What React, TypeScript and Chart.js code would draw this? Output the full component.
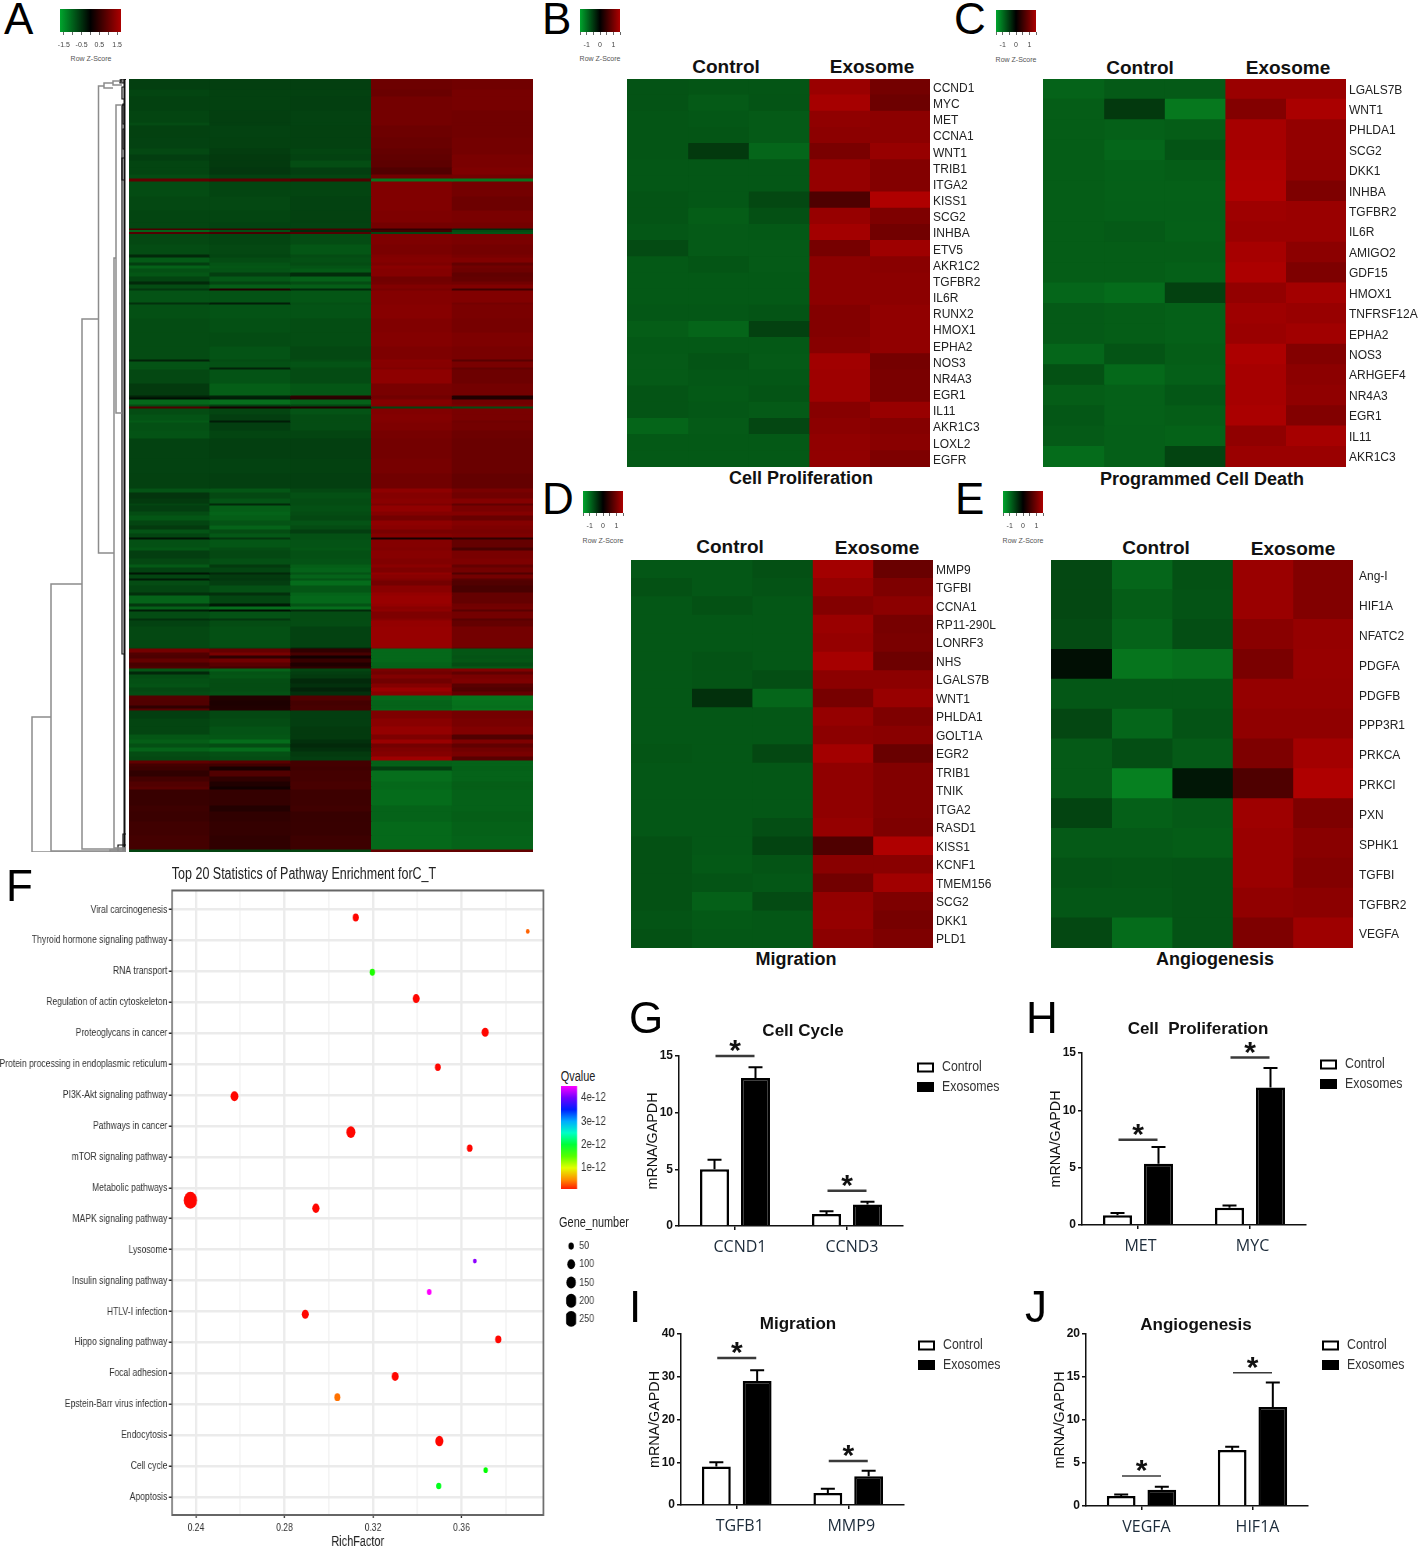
import React, { useEffect, useRef } from "react";
import { Chart, registerables } from "chart.js";

Chart.register(...registerables);

const SANS = '"Liberation Sans", Arial, sans-serif';
const SQUEEZE = 0.78; // panel F was narrowed horizontally in the figure

// ---------- Heat map data: z-scores by sample ----------
const samples = ["C1", "C2", "C3", "E1", "E2"];

// Panel A: [cluster gene count, z of the five samples]
const panelAClusters: number[][] = [
  [10,-.46,-.46,-.46,.68,.7],[7,-.5,-.47,-.47,.66,.74],[14,-.47,-.47,-.46,.72,.74],[12,-.5,-.46,-.48,.72,.7],
  [3,-.54,-.46,-.48,.72,.7],[12,-.47,-.48,-.47,.68,.7],[11,-.48,-.47,-.47,.65,.72],[6,-.52,-.44,-.5,.62,.72],
  [6,-.45,-.42,-.48,.6,.76],[7,-.5,-.42,-.56,.58,.76],[7,-.5,-.4,-.45,.5,.78],[4,-.55,-.47,-.5,.7,.72],
  [3,.6,.55,.5,-.85,-.85],[15,-.55,-.5,-.5,.8,.72],[14,-.52,-.52,-.48,.8,.68],[12,-.5,-.5,-.47,.78,.76],
  [6,-.5,-.48,-.48,.72,.72],[1.5,.45,.4,.45,.3,-.3],[2,-.7,-.55,-.3,.4,-.55],[2,.5,.45,.5,-.5,-.6],
  [10.5,-.52,-.5,-.55,.78,.76],[10,-.55,-.52,-.62,.76,.72],[3,-.3,-.5,-.55,.8,.75],[5,-.65,-.55,-.58,.82,.8],
  [3,-.45,-.6,-.55,.78,.62],[3,-.7,-.62,-.6,.85,.7],[4,-.58,-.6,-.65,.82,.68],[4,-.62,-.45,-.32,.82,.6],
  [5,-.5,-.64,-.7,.7,.62],[3,-.3,-.5,-.55,.72,.7],[4,-.55,-.68,-.68,.8,.8],[2,-.4,.2,-.3,.75,.4],
  [12,-.6,-.6,-.62,.82,.8],[2,-.35,-.22,-.58,.82,.72],[14,-.58,-.6,-.6,.84,.76],[14,-.55,-.58,-.56,.8,.74],
  [14,-.55,-.55,-.56,.82,.78],[13,-.55,-.6,-.52,.78,.75],[2,-.25,-.55,-.55,.85,.55],[6,-.6,-.58,-.6,.84,.75],
  [2,-.6,-.25,-.55,.8,.62],[14,-.52,-.6,-.54,.88,.68],[12,-.42,-.68,-.62,.75,.72],[2,-.25,-.25,.3,.7,.2],
  [2,-.1,-.2,.25,.72,.2],[5,-.75,-.8,-.7,.82,.7],[2,-.55,-.45,-.5,.8,.75],[2,.5,.15,.2,-.5,-.55],
  [6,-.55,-.5,-.6,.8,.75],[6,-.6,-.45,-.55,.82,.75],[2,-.65,-.2,-.55,.8,.7],[8,-.58,-.45,-.55,.78,.72],
  [8,-.6,-.5,-.5,.74,.68],[20,-.48,-.46,-.46,.72,.66],[15,-.48,-.48,-.47,.74,.66],[15,-.47,-.46,-.46,.7,.62],
  [4,-.6,-.62,-.52,.88,.75],[6,-.38,-.52,-.58,.82,.7],[5,-.42,-.6,-.55,.85,.82],[2,-.5,-.3,-.55,.78,.6],
  [6,-.45,-.68,-.58,.9,.75],[4,-.55,-.72,-.55,.82,.82],[5,-.62,-.68,-.52,.72,.65],[5,-.5,-.6,-.6,.88,.82],
  [4,-.42,-.72,-.55,.85,.78],[4,-.6,-.55,-.45,.75,.75],[4,-.5,-.64,-.58,.82,.78],[2,-.15,-.4,-.58,.15,.3],
  [8,-.58,-.62,-.6,.82,.62],[3,-.62,-.55,-.62,.8,.45],[8,-.45,-.52,-.58,.84,.75],[6,-.52,-.58,-.6,.8,.78],
  [3,-.65,-.42,-.68,.86,.62],[5,-.48,-.5,-.72,.78,.72],[2,-.15,-.3,-.6,.9,.5],[4,-.5,-.42,-.72,.85,.72],
  [2,-.2,-.4,-.6,.8,.55],[5,-.55,-.45,-.78,.72,.5],[7,-.5,-.58,-.62,.85,.45],[3,-.35,-.35,-.72,.92,.62],
  [8,-.72,-.5,-.75,.95,.62],[3,-.4,-.18,-.6,.92,.7],[3,-.7,-.8,-.8,.85,.72],[2,-.2,-.1,-.3,.88,.55],
  [7,-.55,-.6,-.55,.78,.72],[2,-.35,-.4,-.55,.84,.55],[6,-.48,-.55,-.55,.92,.62],[21,-.52,-.58,-.48,.94,.72],
  [1,-.5,-.5,-.3,.85,.6],[4,.72,.62,.3,-.75,-.62],[3,.5,.75,.45,-.75,-.62],[3,.48,.3,.12,-.75,-.6],
  [4,.62,.7,.35,-.75,-.62],[4,.45,.55,.2,-.72,-.55],[2,.5,.45,.3,-.72,-.65],[3,-.62,-.72,-.5,.75,.8],
  [3,-.28,-.6,-.45,.7,.6],[4,-.55,-.62,-.42,.8,.75],[5,-.58,-.56,-.3,.7,.78],[4,-.6,-.55,-.35,.82,.55],
  [4,-.52,-.55,-.25,.95,.5],[4,-.55,-.58,-.35,.85,.62],[5,.52,.22,.5,-.75,-.85],[5,.5,.18,.42,-.72,-.82],
  [3,.3,.2,.45,-.72,-.8],[2,.55,.22,.45,-.75,-.85],[8,-.45,-.52,-.45,.78,.72],[8,-.5,-.55,-.45,.85,.75],
  [8,-.5,-.6,-.42,.92,.8],[5,-.62,-.62,-.42,.78,.5],[4,-.68,-.78,-.35,.95,.78],[4,-.58,-.55,-.3,.72,.6],
  [4,-.72,-.78,-.35,.78,.7],[5,-.55,-.58,-.42,.82,.75],[4,-.52,-.55,-.45,.98,.55],[3,.6,.55,.42,-.7,-.72],
  [3,.42,.4,.42,-.7,-.72],[4,.38,.15,.4,-.45,-.7],[6,.3,.5,.42,-.8,-.72],[5,.42,.3,.42,-.8,-.72],
  [5,.5,.2,.45,-.75,-.68],[3,.55,.12,.45,-.75,-.68],[16,.35,.32,.38,-.78,-.7],[6,.38,.22,.4,-.72,-.7],
  [10,.36,.3,.34,-.72,-.68],[14,.4,.32,.35,-.76,-.7],[14,.42,.3,.38,-.76,-.72],[3,-.5,-.5,-.5,.62,.62],
];

// Dendrogram merges: [distance, upper row, lower row, upper child distance, lower child distance]
const panelAMerges: number[][] = [
  [94,638,773,75,0],[75,505,772,44,0],[44,240,770,27.5,0],[27.5,7,474,22,12],[12,179,769,10,0],
  [10,26,334,4.5,4],[4,26,575,1,1],[22,4,9,13,13],[13,2,6,6,4],[6,1,4,2,2],[5,0,3,1,1],
  [4,8,20,1,1],[3,25,45,1,1],[3,50,70,1,1],[4,79,101,1,1],[16,771,773,0,0],[8,766,773,0,0],[3,755,773,0,0],
  [1.5,0,773,0,0],
];

const panelBGenes = ["CCND1","MYC","MET","CCNA1","WNT1","TRIB1","ITGA2","KISS1","SCG2","INHBA","ETV5","AKR1C2","TGFBR2","IL6R","RUNX2","HMOX1","EPHA2","NOS3","NR4A3","EGR1","IL11","AKR1C3","LOXL2","EGFR"];
const panelBValues = [
  [-.55,-.57,-.57,.88,.66],[-.55,-.6,-.56,.95,.62],[-.57,-.58,-.6,.82,.8],[-.57,-.57,-.6,.8,.8],[-.57,-.38,-.68,.7,.86],
  [-.58,-.58,-.58,.85,.75],[-.58,-.58,-.58,.85,.75],[-.56,-.58,-.48,.45,1],[-.56,-.62,-.53,.86,.72],[-.58,-.6,-.59,.93,.65],
  [-.5,-.6,-.6,.68,.9],[-.59,-.57,-.6,.8,.78],[-.59,-.59,-.59,.8,.8],[-.59,-.59,-.59,.8,.8],[-.58,-.58,-.56,.75,.83],
  [-.62,-.67,-.43,.75,.83],[-.59,-.59,-.59,.77,.83],[-.6,-.56,-.6,.92,.67],[-.6,-.58,-.58,.9,.7],[-.56,-.59,-.56,.9,.7],
  [-.56,-.58,-.6,.77,.87],[-.67,-.6,-.47,.8,.76],[-.59,-.59,-.59,.83,.78],[-.59,-.59,-.59,.83,.72],
];

const panelCGenes = ["LGALS7B","WNT1","PHLDA1","SCG2","DKK1","INHBA","TGFBR2","IL6R","AMIGO2","GDF15","HMOX1","TNFRSF12A","EPHA2","NOS3","ARHGEF4","NR4A3","EGR1","IL11","AKR1C3"];
const panelCValues = [
  [-.66,-.6,-.6,.88,.88],[-.62,-.38,-.8,.75,.97],[-.62,-.64,-.62,.95,.84],[-.62,-.68,-.56,.95,.84],[-.62,-.64,-.62,.98,.82],
  [-.62,-.64,-.64,1,.72],[-.62,-.63,-.63,.9,.88],[-.62,-.6,-.64,.88,.88],[-.62,-.62,-.62,.95,.8],[-.62,-.62,-.64,.98,.72],
  [-.68,-.72,-.43,.84,.93],[-.6,-.62,-.64,.9,.87],[-.6,-.62,-.64,.88,.92],[-.68,-.56,-.62,.98,.75],[-.54,-.7,-.63,.95,.8],
  [-.62,-.64,-.58,.95,.82],[-.58,-.64,-.62,.97,.74],[-.6,-.63,-.65,.82,.95],[-.72,-.63,-.45,.88,.88],
];

const panelDGenes = ["MMP9","TGFBI","CCNA1","RP11-290L","LONRF3","NHS","LGALS7B","WNT1","PHLDA1","GOLT1A","EGR2","TRIB1","TNIK","ITGA2","RASD1","KISS1","KCNF1","TMEM156","SCG2","DKK1","PLD1"];
const panelDValues = [
  [-.58,-.58,-.53,.93,.6],[-.54,-.58,-.55,.85,.72],[-.58,-.54,-.58,.75,.8],[-.58,-.58,-.58,.88,.68],[-.58,-.58,-.58,.85,.7],
  [-.58,-.55,-.58,.95,.62],[-.58,-.56,-.52,.8,.8],[-.58,-.32,-.68,.68,.87],[-.58,-.58,-.58,.85,.72],[-.58,-.58,-.58,.8,.78],
  [-.57,-.58,-.48,.93,.6],[-.58,-.58,-.58,.82,.74],[-.58,-.58,-.58,.82,.74],[-.58,-.58,-.58,.82,.74],[-.58,-.58,-.52,.85,.72],
  [-.54,-.58,-.45,.45,1],[-.54,-.59,-.56,.78,.78],[-.54,-.56,-.58,.65,.92],[-.54,-.64,-.5,.84,.72],[-.56,-.59,-.58,.85,.68],
  [-.54,-.58,-.58,.8,.72],
];

const panelEGenes = ["Ang-I","HIF1A","NFATC2","PDGFA","PDGFB","PPP3R1","PRKCA","PRKCI","PXN","SPHK1","TGFBI","TGFBR2","VEGFA"];
const panelEValues = [
  [-.48,-.68,-.54,.88,.74],[-.48,-.62,-.55,.88,.74],[-.5,-.66,-.52,.78,.85],[-.1,-.78,-.74,.7,.86],[-.58,-.58,-.58,.85,.85],
  [-.47,-.68,-.55,.82,.82],[-.6,-.52,-.6,.72,.93],[-.6,-.85,-.15,.45,1],[-.45,-.64,-.6,.9,.72],[-.6,-.6,-.62,.88,.78],
  [-.55,-.57,-.55,.88,.75],[-.58,-.58,-.55,.83,.8],[-.48,-.72,-.55,.72,.9],
];

// ---------- Panel F data ----------
const pathwayNames = ["Viral carcinogenesis","Thyroid hormone signaling pathway","RNA transport","Regulation of actin cytoskeleton","Proteoglycans in cancer","Protein processing in endoplasmic reticulum","PI3K-Akt signaling pathway","Pathways in cancer","mTOR signaling pathway","Metabolic pathways","MAPK signaling pathway","Lysosome","Insulin signaling pathway","HTLV-I infection","Hippo signaling pathway","Focal adhesion","Epstein-Barr virus infection","Endocytosis","Cell cycle","Apoptosis"];
const pathwayRichFactor = [.3122,.3899,.3197,.3395,.3707,.3493,.2574,.31,.3637,.2375,.2942,.366,.3454,.2894,.3766,.33,.3039,.35,.3709,.3497];
const pathwayRowPosition = [.26,.71,2.03,2.88,3.97,5.1,6.04,7.2,7.72,9.4,9.66,11.37,12.37,13.09,13.9,15.1,15.77,17.19,18.13,18.64];
const pathwayGenes = [61,23,48,80,83,55,100,133,52,288,87,23,37,83,61,80,61,109,32,42];
const pathwayQE12 = [.02,.35,1.7,.02,.02,.02,.02,.02,.02,.02,.02,4.1,4.5,.02,.02,.02,.4,.02,1.8,1.9];
const legendGeneNumbers = [50,100,150,200,250];
const qTicks = [1,2,3,4];

// ---------- Panels G-J data ----------
const gCats = ["CCND1","CCND3"]; const gControl = [5,1.05]; const gControlErr = [5.85,1.3]; const gExo = [13.05,1.9]; const gExoErr = [14,2.15]; const gSig = [15,3.1];
const hCats = ["MET","MYC"]; const hControl = [.85,1.5]; const hControlErr = [1.05,1.7]; const hExo = [5.35,12]; const hExoErr = [6.8,13.7]; const hSig = [7.43,14.6];
const iCats = ["TGFB1","MMP9"]; const iControl = [9,2.8]; const iControlErr = [10,3.8]; const iExo = [29,6.7]; const iExoErr = [31.5,8]; const iSig = [34.4,10.3];
const jCats = ["VEGFA","HIF1A"]; const jControl = [1.15,6.5]; const jControlErr = [1.35,6.9]; const jExo = [1.9,11.5]; const jExoErr = [2.25,14.35]; const jSig = [3.5,15.5];

// ---------- Colour helpers ----------
const zColor = (z: number) => {
  if (z < 0) { const g = 150 * -z; return `rgb(${Math.round(g * 0.05)},${Math.round(g)},${Math.round(g * 0.25)})`; }
  return `rgb(${Math.round(175 * z)},0,0)`;
};
const qColor = (q: number) => `hsl(${(q / 4.5) * 300},100%,50%)`;
const geneRadius = (n: number) => 0.5 * Math.sqrt(n);

const base = { responsive: false, animation: false, events: [] as string[] };
const noPlugins = { legend: { display: false }, tooltip: { enabled: false }, title: { display: false } };
const noMargins = (s: any) => { s.paddingTop = 0; s.paddingBottom = 0; s.paddingLeft = 0; s.paddingRight = 0; };

// ---------- Chart builders ----------
function heatmapConfig(genes: string[], values: number[][], gap: number, axisWidth: number, labelShift: number) {
  return {
    type: "bar",
    data: {
      labels: genes,
      datasets: samples.map((s, c) => ({
        label: s,
        data: genes.map(() => 1),
        backgroundColor: values.map((r) => zColor(r[c])),
        barPercentage: 1,
        categoryPercentage: 1,
        inflateAmount: 0.6,
      })),
    },
    options: {
      ...base,
      indexAxis: "y",
      plugins: noPlugins,
      scales: {
        x: { stacked: true, min: 0, max: samples.length, display: false },
        y: {
          stacked: true,
          position: "right",
          grid: { display: false, drawTicks: false },
          border: { display: false },
          afterFit: (s: any) => { s.width = axisWidth; noMargins(s); },
          ticks: { autoSkip: false, padding: gap, labelOffset: labelShift, color: "#222", font: { family: SANS, size: 12 } },
        },
      },
    },
  };
}

function clusterConfig() {
  const total = panelAClusters.reduce((a, r) => a + r[0], 0);
  return {
    type: "bar",
    data: {
      labels: samples,
      datasets: panelAClusters.map((r, i) => ({
        label: `cluster ${i + 1}`,
        data: samples.map(() => r[0]),
        backgroundColor: r.slice(1).map((z) => zColor(z * 0.92)),
        barPercentage: 1,
        categoryPercentage: 1,
        inflateAmount: 0.4,
      })),
    },
    options: {
      ...base,
      plugins: noPlugins,
      scales: {
        x: { stacked: true, display: false },
        y: { stacked: true, reverse: true, min: 0, max: total, display: false },
      },
    },
  };
}

function dendrogramConfig() {
  return {
    type: "scatter",
    data: {
      datasets: panelAMerges.map(([h, a, b, ca, cb]) => ({
        data: [{ x: ca, y: a }, { x: h, y: a }, { x: h, y: b }, { x: cb, y: b }],
        showLine: true,
        pointRadius: 0,
        clip: false,
        borderColor: h > 8 ? "#8c8c8c" : "#111",
        borderWidth: h < 2 ? 2 : h > 8 ? 1.5 : 1.2,
      })),
    },
    options: {
      ...base,
      plugins: noPlugins,
      scales: {
        x: { type: "linear", reverse: true, min: 0, max: 100, display: false },
        y: { type: "linear", reverse: true, min: 0, max: 773, display: false },
      },
    },
  };
}

function keyConfig(range: number, labels: number[]) {
  return {
    type: "bar",
    data: {
      labels: ["key"],
      datasets: [{
        data: [[-range, range]],
        barPercentage: 1,
        categoryPercentage: 1,
        backgroundColor: (ctx: any) => {
          const a = ctx.chart.chartArea;
          if (!a) return "#000";
          const g = ctx.chart.ctx.createLinearGradient(a.left, 0, a.right, 0);
          g.addColorStop(0, "rgb(0,165,45)");
          g.addColorStop(0.5, "rgb(0,0,0)");
          g.addColorStop(1, "rgb(172,0,0)");
          return g;
        },
      }],
    },
    options: {
      ...base,
      indexAxis: "y",
      plugins: noPlugins,
      layout: { padding: { left: 5, right: 5 } },
      scales: {
        y: { display: false },
        x: {
          min: -range,
          max: range,
          afterFit: (s: any) => { s.height = 20; noMargins(s); },
          border: { display: false },
          grid: { drawOnChartArea: false, tickLength: 3, color: "#666" },
          ticks: {
            stepSize: 0.5,
            includeBounds: false,
            autoSkip: false,
            maxRotation: 0,
            padding: 6,
            color: "#444",
            font: { family: SANS, size: 7 },
            callback: (v: number) => (labels.includes(Math.round(v * 10) / 10) ? String(v) : ""),
          },
        },
      },
    },
  };
}

const framePlugin = {
  id: "frame",
  afterDraw(chart: any) {
    const { ctx, chartArea: a } = chart;
    ctx.save();
    ctx.strokeStyle = "#666";
    ctx.lineWidth = 2;
    ctx.strokeRect(a.left, a.top, a.right - a.left, a.bottom - a.top);
    ctx.restore();
  },
};

function bubbleConfig() {
  const tickFont = { family: SANS, size: 11 };
  return {
    type: "bubble",
    data: {
      datasets: [{
        data: pathwayNames.map((_, i) => ({ x: pathwayRichFactor[i], y: pathwayRowPosition[i], r: geneRadius(pathwayGenes[i]) })),
        backgroundColor: pathwayQE12.map(qColor),
        borderWidth: 0,
      }],
    },
    options: {
      ...base,
      layout: { padding: { top: 5, right: 6 / SQUEEZE } },
      plugins: noPlugins,
      scales: {
        x: {
          min: 0.2292,
          max: 0.397,
          afterFit: (s: any) => { s.height = 36; noMargins(s); },
          border: { display: false },
          grid: {
            color: "#ebebeb",
            lineWidth: (c: any) => (Math.round(c.tick.value * 100) % 4 === 0 ? 2.8 : 1.2),
            tickColor: (c: any) => (Math.round(c.tick.value * 100) % 4 === 0 ? "#333" : "rgba(0,0,0,0)"),
            tickWidth: 1.5,
            tickLength: 3,
          },
          ticks: {
            stepSize: 0.02,
            includeBounds: false,
            autoSkip: false,
            maxRotation: 0,
            padding: 3,
            color: "#333",
            font: tickFont,
            callback: (v: number) => (Math.round(v * 100) % 4 === 0 ? v.toFixed(2) : ""),
          },
          title: { display: true, text: "RichFactor", color: "#222", padding: { top: 1, bottom: 0 }, font: { family: SANS, size: 14 } },
        },
        y: {
          reverse: true,
          min: -0.614,
          max: 19.58,
          afterFit: (s: any) => { s.width = 172 / SQUEEZE; noMargins(s); },
          border: { display: false },
          grid: { color: "#ebebeb", lineWidth: 2.5, tickColor: "#222", tickWidth: 1.5, tickLength: 4 },
          ticks: {
            stepSize: 1,
            includeBounds: false,
            autoSkip: false,
            padding: 2,
            color: "#333",
            font: tickFont,
            callback: (v: number) => pathwayNames[Math.round(v)] ?? "",
          },
        },
      },
    },
    plugins: [framePlugin],
  };
}

const SIDE_AXIS = 40 / SQUEEZE;

function qBarConfig() {
  return {
    type: "bar",
    data: {
      labels: ["Qvalue"],
      datasets: [{
        data: [[0.1, 4.5]],
        barPercentage: 1,
        categoryPercentage: 1,
        backgroundColor: (ctx: any) => {
          const a = ctx.chart.chartArea;
          if (!a) return "#000";
          const g = ctx.chart.ctx.createLinearGradient(0, a.bottom, 0, a.top);
          [0.1, 0.5, 1, 1.5, 2, 2.5, 3, 3.5, 4, 4.5].forEach((q) => g.addColorStop((q - 0.1) / 4.4, qColor(q)));
          return g;
        },
      }],
    },
    options: {
      ...base,
      plugins: noPlugins,
      scales: {
        x: { display: false },
        y: {
          position: "right",
          min: 0.1,
          max: 4.5,
          afterFit: (s: any) => { s.width = SIDE_AXIS; noMargins(s); },
          border: { display: false },
          grid: { display: false, drawTicks: false },
          ticks: {
            stepSize: 1,
            includeBounds: false,
            padding: 5,
            color: "#333",
            font: { family: SANS, size: 12.5 },
            callback: (v: number) => (qTicks.includes(v) ? `${v}e-12` : ""),
          },
        },
      },
    },
  };
}

function geneKeyConfig() {
  return {
    type: "bubble",
    data: {
      datasets: [{
        data: legendGeneNumbers.map((n) => ({ x: 0.5, y: n, r: geneRadius(n) })),
        backgroundColor: "#000",
        borderWidth: 0,
      }],
    },
    options: {
      ...base,
      plugins: noPlugins,
      scales: {
        x: { display: false, min: 0, max: 1 },
        y: {
          position: "right",
          reverse: true,
          min: 0,
          max: 300,
          afterFit: (s: any) => { s.width = SIDE_AXIS; noMargins(s); },
          border: { display: false },
          grid: { display: false, drawTicks: false },
          ticks: {
            stepSize: 50,
            padding: 4,
            color: "#333",
            font: { family: SANS, size: 11.5 },
            callback: (v: number) => (legendGeneNumbers.includes(v) ? String(v) : ""),
          },
        },
      },
    },
  };
}

const TOP_PAD = 40;
const RIGHT_PAD = 115;
const AXIS_W = 39;
const AXIS_H = 33;

function barConfig(cats: string[], control: number[], controlErr: number[], exo: number[], exoErr: number[], sig: number[], yMax: number, yStep: number, sigWidth: number, labelShift: number) {
  const extras = {
    id: "extras",
    afterDatasetsDraw(chart: any) {
      const { ctx, chartArea: a, scales } = chart;
      ctx.save();
      ctx.strokeStyle = "#000";
      ctx.lineWidth = 2;
      chart.data.datasets.forEach((ds: any, di: number) => {
        chart.getDatasetMeta(di).data.forEach((bar: any, i: number) => {
          const top = scales.y.getPixelForValue(ds.errorTop[i]);
          ctx.beginPath();
          ctx.moveTo(bar.x, bar.y);
          ctx.lineTo(bar.x, top);
          ctx.moveTo(bar.x - 7, top);
          ctx.lineTo(bar.x + 7, top);
          ctx.stroke();
        });
      });
      sig.forEach((level, i) => {
        const x = scales.x.getPixelForValue(i);
        const y = scales.y.getPixelForValue(level);
        ctx.strokeStyle = "#3a3a3a";
        ctx.lineWidth = sigWidth;
        ctx.beginPath();
        ctx.moveTo(x - 19.5, y);
        ctx.lineTo(x + 19.5, y);
        ctx.stroke();
        ctx.fillStyle = "#111";
        ctx.font = `bold 30px ${SANS}`;
        ctx.textAlign = "center";
        ctx.textBaseline = "middle";
        ctx.fillText("*", x, y - 4);
      });
      chart.data.datasets.forEach((ds: any, di: number) => {
        const sx = a.right + 14;
        const sy = a.top + 6.5 + di * 19.5;
        ctx.fillStyle = ds.backgroundColor;
        ctx.fillRect(sx, sy, 17, 10);
        ctx.strokeStyle = "#000";
        ctx.lineWidth = 2;
        ctx.strokeRect(sx + 1, sy + 1, 15, 8);
        ctx.save();
        ctx.translate(sx + 25, sy + 5);
        ctx.scale(0.88, 1);
        ctx.fillStyle = "#333";
        ctx.font = `14px ${SANS}`;
        ctx.textAlign = "left";
        ctx.textBaseline = "middle";
        ctx.fillText(ds.label, 0, 0);
        ctx.restore();
      });
      ctx.restore();
    },
  };
  const common = { barPercentage: 0.707, categoryPercentage: 0.732, borderColor: "#000", borderWidth: 2.5 };
  return {
    type: "bar",
    data: {
      labels: cats,
      datasets: [
        { label: "Control", data: control, errorTop: controlErr, backgroundColor: "#fff", ...common },
        { label: "Exosomes", data: exo, errorTop: exoErr, backgroundColor: "#000", ...common },
      ],
    },
    options: {
      ...base,
      layout: { padding: { top: TOP_PAD, right: RIGHT_PAD } },
      plugins: noPlugins,
      scales: {
        x: {
          afterFit: (s: any) => { s.height = AXIS_H; },
          border: { color: "#111", width: 1.5 },
          grid: { drawOnChartArea: false, offset: false, color: "#111", lineWidth: 1.5, tickLength: 4 },
          ticks: { maxRotation: 0, autoSkip: false, padding: 8, labelOffset: labelShift, color: "#1c2b3a", font: { family: '"Open Sans", sans-serif', size: 16 } },
        },
        y: {
          min: 0,
          max: yMax,
          afterFit: (s: any) => { s.width = AXIS_W; },
          border: { color: "#111", width: 1.5 },
          grid: { drawOnChartArea: false, color: "#111", lineWidth: 1.5, tickLength: 4 },
          ticks: { stepSize: yStep, padding: 2, color: "#111", font: { family: SANS, size: 12, weight: "bold" } },
          title: { display: true, text: "mRNA/GAPDH", color: "#111", padding: { top: 4, bottom: 0 }, font: { family: SANS, size: 14.3 } },
        },
      },
    },
    plugins: [extras],
  };
}

// ---------- Layout tables ----------
const keyBoxes = [
  { left: 60, top: 9, w: 61, h: 23, range: 1.72, labels: [-1.5, -0.5, 0.5, 1.5] },
  { left: 580, top: 9, w: 40, h: 23, range: 1.5, labels: [-1, 0, 1] },
  { left: 996, top: 10, w: 40, h: 22, range: 1.5, labels: [-1, 0, 1] },
  { left: 583, top: 491, w: 40, h: 22, range: 1.5, labels: [-1, 0, 1] },
  { left: 1003, top: 491, w: 40, h: 22, range: 1.5, labels: [-1, 0, 1] },
];

const panelLetters: [string, number, number][] = [
  ["A", 4, 19], ["B", 542, 19], ["C", 954, 19], ["D", 542, 499], ["E", 955, 499],
  ["F", 6, 886], ["G", 629, 1018], ["H", 1026, 1018], ["I", 629, 1307], ["J", 1025, 1307],
];

const captions: [string, number, number, number, boolean][] = [
  ["Control", 726, 66, 19, true], ["Exosome", 872, 66, 19, true], ["Cell Proliferation", 801, 478, 18, true],
  ["Control", 1140, 67, 19, true], ["Exosome", 1288, 67, 19, true], ["Programmed Cell Death", 1202, 479, 18, true],
  ["Control", 730, 546, 19, true], ["Exosome", 877, 547, 19, true], ["Migration", 796, 959, 18, true],
  ["Control", 1156, 547, 19, true], ["Exosome", 1293, 548, 19, true], ["Angiogenesis", 1215, 959, 18, true],
  ["Cell Cycle", 803, 1030, 17, true], ["Cell  Proliferation", 1198, 1028, 17, true],
  ["Migration", 798, 1323, 17, true], ["Angiogenesis", 1196, 1324, 17, true],
  ["Row Z-Score", 91, 58, 7, false], ["Row Z-Score", 600, 58, 7, false], ["Row Z-Score", 1016, 59, 7, false],
  ["Row Z-Score", 603, 539.5, 7, false], ["Row Z-Score", 1023, 540, 7, false],
];

const squeezedCaptions: [string, number, number, number][] = [
  ["Top 20 Statistics of Pathway Enrichment forC_T", 304, 874, 16],
  ["Qvalue", 577.5, 1076, 14],
  ["Gene_number", 594, 1222, 14],
];

// ---------- Components ----------
function ChartBox({ left, top, width, height, build, squeeze = 1, blur }: { left: number; top: number; width: number; height: number; build: () => any; squeeze?: number; blur?: number }) {
  const ref = useRef<HTMLCanvasElement>(null);
  useEffect(() => {
    const chart = new Chart(ref.current as HTMLCanvasElement, build());
    return () => chart.destroy();
  }, []);
  return <canvas ref={ref} width={Math.round(width / squeeze)} height={height} style={{ position: "absolute", left, top, width, height, display: "block", filter: blur ? `blur(${blur}px)` : undefined }} />;
}

function Caption({ text, x, y, size, bold, color, squeeze }: { text: string; x: number; y: number; size: number; bold?: boolean; color?: string; squeeze?: number }) {
  return (
    <span style={{ position: "absolute", left: x, top: y, transform: `translate(-50%,-50%) scaleX(${squeeze ?? 1})`, whiteSpace: "pre", fontFamily: SANS, fontSize: size, lineHeight: 1, fontWeight: bold ? 700 : 400, color: color ?? "#111" }}>
      {text}
    </span>
  );
}

function barBox(axisX: number, right: number, top: number, bottom: number) {
  return { left: axisX - AXIS_W, top: top - TOP_PAD, width: right - axisX + AXIS_W + RIGHT_PAD, height: bottom - top + TOP_PAD + AXIS_H };
}

export default function App() {
  return (
    <div style={{ position: "absolute", left: 0, top: 0, width: 1418, height: 1548, overflow: "hidden", background: "#fff", filter: "blur(0.35px)" }}>
      <ChartBox left={26} top={79} width={100} height={773} build={dendrogramConfig} />
      <ChartBox left={129} top={79} width={404} height={773} blur={0.6} build={clusterConfig} />
      <ChartBox left={627} top={79} width={388} height={388} build={() => heatmapConfig(panelBGenes, panelBValues, 3, 85, 1.5)} />
      <ChartBox left={1043} top={79} width={375} height={388} build={() => heatmapConfig(panelCGenes, panelCValues, 3, 72, 1)} />
      <ChartBox left={631} top={560} width={387} height={388} build={() => heatmapConfig(panelDGenes, panelDValues, 3, 85, 1)} />
      <ChartBox left={1051} top={560} width={367} height={388} build={() => heatmapConfig(panelEGenes, panelEValues, 6, 65, 2)} />
      {keyBoxes.map((k) => (
        <ChartBox key={k.left} left={k.left - 5} top={k.top} width={k.w + 10} height={k.h + 20} build={() => keyConfig(k.range, k.labels)} />
      ))}
      <ChartBox left={0} top={882} width={550} height={669} squeeze={SQUEEZE} build={bubbleConfig} />
      <ChartBox left={561} top={1086} width={56} height={103} squeeze={SQUEEZE} build={qBarConfig} />
      <ChartBox left={560} top={1220} width={56} height={125} squeeze={SQUEEZE} build={geneKeyConfig} />
      <ChartBox {...barBox(679, 903, 1056, 1226)} build={() => barConfig(gCats, gControl, gControlErr, gExo, gExoErr, gSig, 15, 5, 2.5, 5)} />
      <ChartBox {...barBox(1082, 1306, 1053, 1225)} build={() => barConfig(hCats, hControl, hControlErr, hExo, hExoErr, hSig, 15, 5, 2.5, 2.5)} />
      <ChartBox {...barBox(681, 904, 1334, 1505)} build={() => barConfig(iCats, iControl, iControlErr, iExo, iExoErr, iSig, 40, 10, 2.5, 3)} />
      <ChartBox {...barBox(1086, 1308, 1334, 1506)} build={() => barConfig(jCats, jControl, jControlErr, jExo, jExoErr, jSig, 20, 5, 1.5, 5)} />
      {panelLetters.map(([t, x, y]) => (
        <span key={t} style={{ position: "absolute", left: x, top: y, transform: "translateY(-50%)", fontFamily: SANS, fontSize: 44, lineHeight: 1, color: "#000" }}>{t}</span>
      ))}
      {captions.map(([t, x, y, s, b], i) => (
        <Caption key={i} text={t} x={x} y={y} size={s} bold={b} color={b ? "#111" : "#555"} />
      ))}
      {squeezedCaptions.map(([t, x, y, s], i) => (
        <Caption key={i} text={t} x={x} y={y} size={s} squeeze={SQUEEZE} color="#222" />
      ))}
    </div>
  );
}
